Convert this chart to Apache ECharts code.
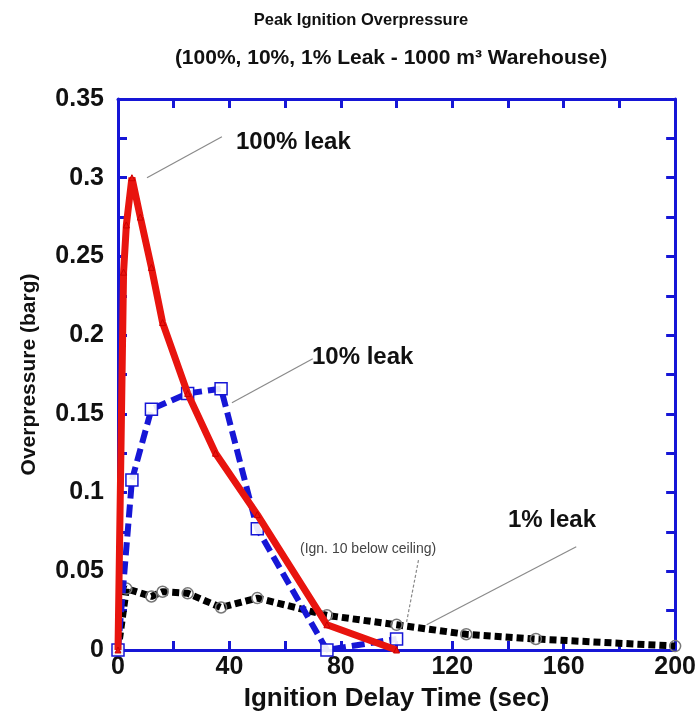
<!DOCTYPE html>
<html><head><meta charset="utf-8">
<script src="https://cdn.jsdelivr.net/npm/echarts@6/dist/echarts.min.js"></script>
<style>html,body{margin:0;padding:0;background:#fff}#c{width:699px;height:717px}</style>
</head><body><div id="c"></div>
<script>
// Data
const leak100X = [0, 2, 3, 5, 8, 12, 16, 25, 35, 50, 75, 100];
const leak100Y = [0, 0.24, 0.27, 0.30, 0.275, 0.243, 0.208, 0.163, 0.125, 0.086, 0.016, 0];
const leak10X = [0, 5, 12, 25, 37, 50, 75, 100];
const leak10Y = [0, 0.108, 0.153, 0.163, 0.166, 0.077, 0, 0.007];
const leak1X = [0, 3, 12, 16, 25, 37, 50, 75, 100, 125, 150, 200];
const leak1Y = [0, 0.039, 0.034, 0.037, 0.036, 0.027, 0.033, 0.022, 0.016, 0.010, 0.007, 0.0025];
const xTicks = [0, 40, 80, 120, 160, 200];
const yTicks = [0, 0.05, 0.1, 0.15, 0.2, 0.25, 0.3, 0.35];

const pair = (xs, ys) => xs.map((x, i) => [x, ys[i]]);
const BLUE = '#1616d6';
const FONT = '"Liberation Sans", Arial, sans-serif';

const chart = echarts.init(document.getElementById('c'), null, {renderer: 'canvas'});

const axisBase = {
  axisLine: {show: true, onZero: false, lineStyle: {color: BLUE, width: 3}},
  axisTick: {show: true, inside: true, length: 9, lineStyle: {color: BLUE, width: 3}},
  splitLine: {show: false}
};

function leader(c1, c2, dashed) {
  return {
    silent: true, symbol: 'none', label: {show: false},
    lineStyle: {color: '#8a8a8a', width: 1.2, type: dashed ? [3, 2] : 'solid'},
    data: [[{coord: c1}, {coord: c2}]]
  };
}

chart.setOption({
  animation: false,
  backgroundColor: '#fff',
  grid: {left: 118, right: 23, top: 99, bottom: 56},
  title: [
    {text: 'Peak Ignition Overpressure', left: 356, top: 7, textAlign: 'center',
     textStyle: {fontFamily: FONT, fontSize: 16.5, fontWeight: 'bold', color: '#111'}},
    {text: '(100%, 10%, 1% Leak - 1000 m³ Warehouse)', left: 386, top: 43, textAlign: 'center',
     textStyle: {fontFamily: FONT, fontSize: 21, fontWeight: 'bold', color: '#111'}}
  ],
  xAxis: [
    Object.assign({}, axisBase, {
      type: 'value', min: 0, max: 200, interval: 20, position: 'bottom',
      name: 'Ignition Delay Time (sec)', nameLocation: 'middle', nameGap: 36,
      nameTextStyle: {fontFamily: FONT, fontSize: 26, fontWeight: 'bold', color: '#111'},
      axisLabel: {margin: 5, fontFamily: FONT, fontSize: 25, fontWeight: 'bold', color: '#111',
        formatter: v => xTicks.includes(v) ? String(v) : ''}
    }),
    Object.assign({}, axisBase, {
      type: 'value', min: 0, max: 200, interval: 20, position: 'top',
      axisLabel: {show: false}
    })
  ],
  yAxis: [
    Object.assign({}, axisBase, {
      type: 'value', min: 0, max: 0.35, interval: 0.025, position: 'left',
      name: 'Overpressure (barg)', nameLocation: 'middle', nameGap: 78, nameRotate: 90,
      nameTextStyle: {fontFamily: FONT, fontSize: 21, fontWeight: 'bold', color: '#111'},
      axisLabel: {margin: 14, fontFamily: FONT, fontSize: 25, fontWeight: 'bold', color: '#111',
        formatter: v => {
          const t = yTicks.find(k => Math.abs(k - v) < 1e-9);
          return t === undefined ? '' : String(t);
        }}
    }),
    Object.assign({}, axisBase, {
      type: 'value', min: 0, max: 0.35, interval: 0.025, position: 'right',
      axisLabel: {show: false}
    })
  ],
  series: [
    {
      name: '1% leak', type: 'line', data: pair(leak1X, leak1Y), z: 3,
      lineStyle: {color: '#000', width: 7, type: [7, 4]},
      symbol: 'circle', symbolSize: 11, showAllSymbol: true,
      itemStyle: {color: 'rgba(255,255,255,0)', borderColor: '#777', borderWidth: 1.5},
      markLine: leader([110.8, 0.016], [164.5, 0.0656], false)
    },
    {
      name: '10% leak', type: 'line', data: pair(leak10X, leak10Y), z: 4,
      lineStyle: {color: BLUE, width: 6, type: [13, 6]},
      symbol: 'rect', symbolSize: 12, showAllSymbol: true,
      itemStyle: {color: 'rgba(255,255,255,0.9)', borderColor: BLUE, borderWidth: 1.5},
      markLine: leader([40.9, 0.157], [69.9, 0.185], false)
    },
    {
      name: '100% leak', type: 'line', data: pair(leak100X, leak100Y), z: 5,
      lineStyle: {color: '#e8140e', width: 7},
      symbol: 'triangle', symbolSize: 6, showAllSymbol: true,
      itemStyle: {color: '#e8140e', borderColor: '#c00', borderWidth: 1},
      markLine: leader([10.4, 0.300], [37.3, 0.326], false)
    },
    {
      name: 'note', type: 'line', data: [], z: 2,
      markLine: leader([103.6, 0.0178], [107.9, 0.0574], true)
    }
  ],
  graphic: [
    {type: 'text', left: 236, top: 130, style: {text: '100% leak', font: 'bold 24px ' + FONT, fill: '#111'}},
    {type: 'text', left: 312, top: 345, style: {text: '10% leak', font: 'bold 24px ' + FONT, fill: '#111'}},
    {type: 'text', left: 508, top: 508, style: {text: '1% leak', font: 'bold 24px ' + FONT, fill: '#111'}},
    {type: 'text', left: 300, top: 542, style: {text: '(Ign. 10 below ceiling)', font: '14px ' + FONT, fill: '#444'}}
  ]
});
</script>
</body></html>
